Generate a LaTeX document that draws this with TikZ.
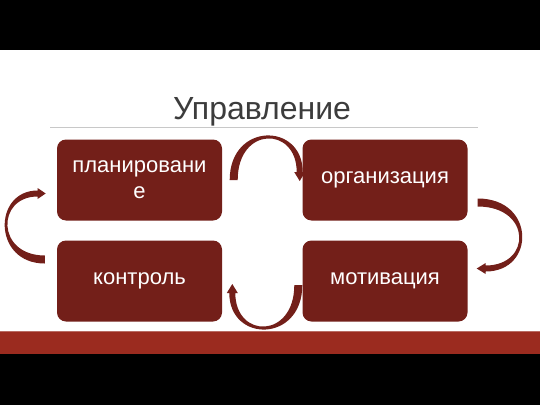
\documentclass[tikz,border=0pt]{standalone}
\usepackage{fontspec}
\setmainfont{Liberation Sans}
\usetikzlibrary{calc}

\definecolor{boxred}{HTML}{731F19}
\definecolor{bandred}{HTML}{9B2B1F}
\definecolor{titlegray}{HTML}{3C3C3C}
\definecolor{rulegray}{HTML}{C8C8C8}

\tikzset{
  stage/.style={fill=boxred, rounded corners=9pt, minimum width=165pt,
    minimum height=81pt, text=white, align=center,
    font=\fontsize{22}{26}\selectfont, inner sep=2pt},
  % изогнутая стрелка-лента: хвост в начале, острие на расстоянии 66
  ribbon/.pic={
    \fill[boxred] (-4,0) .. controls (-4,58) and (69,58) .. (69,8)
        -- (71.5,8) -- (66,-1) -- (60.5,8) -- (63,8)
        .. controls (63,54) and (4,54) .. (4,0) -- cycle;
  }
}

\begin{document}
\begin{tikzpicture}[x=1pt,y=1pt]
    \useasboundingbox (0,0) rectangle (540,405);

    % Фон слайда
    \fill[white] (0,0) rectangle (540,405);
    \fill[black] (0,355) rectangle (540,405);
    \fill[black] (0,0) rectangle (540,51);
    \fill[bandred] (0,51) rectangle (540,74);
    \draw[bandred!70!white, line width=0.8pt] (0,74) -- (540,74);

    % Заголовок
    \node[text=titlegray, font=\fontsize{32}{36}\selectfont, anchor=base]
        (title) at (262,285) {Управление};
    \draw[rulegray, line width=0.8pt] (50,278) -- (478,278);

    % Этапы
    \node[stage] (plan) at (139.5,225) {планировани\\е};
    \node[stage] (org)  at (385,225) {организация};
    \node[stage] (ctrl) at (139.5,124) {контроль};
    \node[stage] (mot)  at (385,124) {мотивация};

    % Стрелки цикла
    \pic (planorg) at ($(plan.east)+(11.5,0)$) {ribbon};
    \pic[rotate=-90] (orgmot) at ($(org.east)+(10,-22.5)$) {ribbon};
    \pic[rotate=180] (motctrl) at ($(mot.west)+(-4,-4)$) {ribbon};
    \pic[rotate=90, yscale=0.9] (ctrlplan) at ($(ctrl.west)+(-12,21.5)$) {ribbon};
\end{tikzpicture}
\end{document}
